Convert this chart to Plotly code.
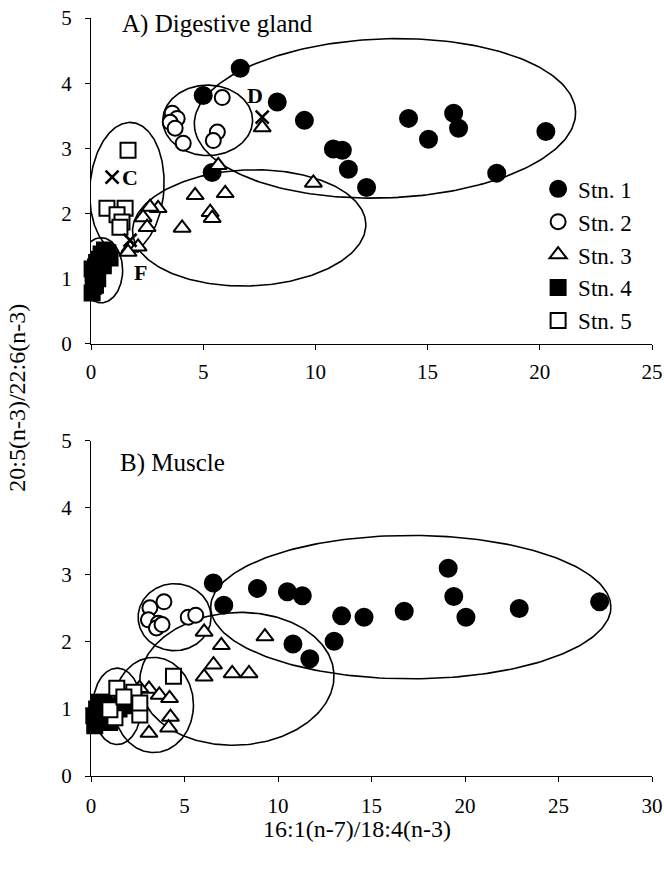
import numpy as np
import plotly.graph_objects as go

# ---------------- data: panel A (digestive gland) ----------------
a_s1_x = [6.65, 5.0, 8.3, 9.51, 10.8, 11.2, 11.47, 12.28, 5.4, 14.15, 15.04, 16.16, 16.38, 18.08, 20.27]
a_s1_y = [4.23, 3.81, 3.71, 3.43, 2.99, 2.97, 2.68, 2.40, 2.63, 3.46, 3.14, 3.54, 3.31, 2.62, 3.26]
a_s2_x = [5.85, 3.62, 3.84, 3.53, 3.75, 4.11, 5.63, 5.45]
a_s2_y = [3.78, 3.54, 3.46, 3.40, 3.31, 3.08, 3.25, 3.12]
a_s3_x = [7.63, 5.67, 9.91, 4.64, 5.98, 5.31, 5.4, 4.06, 2.99, 2.63, 2.32, 2.5, 1.74, 2.1, 1.65]
a_s3_y = [3.32, 2.74, 2.47, 2.28, 2.31, 2.02, 1.93, 1.78, 2.08, 2.10, 1.94, 1.79, 1.47, 1.49, 1.41]
a_s4_x = [0.05, 0.1, 0.15, 0.1, 0.2, 0.25, 0.35, 0.45, 0.6, 0.75, 0.85, 0.55, 0.3, 0.2, 0.05]
a_s4_y = [0.78, 0.88, 0.98, 1.08, 1.18, 1.25, 1.30, 1.38, 1.44, 1.40, 1.32, 1.20, 1.00, 0.90, 1.15]
a_s5_x = [1.65, 0.71, 1.52, 1.16, 1.38, 1.29]
a_s5_y = [2.97, 2.08, 2.08, 1.98, 1.87, 1.79]
# reference samples (x) with letters
a_ref_lbl = ["C", "D", "F"]
a_ref_x = [0.94, 7.63, 1.74]
a_ref_y = [2.56, 3.48, 1.59]
a_lbl_x = [1.74, 7.3, 2.19]
a_lbl_y = [2.56, 3.81, 1.10]

# ---------------- data: panel B (muscle) ----------------
b_s1_x = [6.54, 7.1, 8.9, 10.5, 11.3, 10.8, 11.7, 13.0, 13.4, 14.6, 16.75, 19.1, 19.4, 20.05, 22.9, 27.2]
b_s1_y = [2.88, 2.55, 2.80, 2.75, 2.69, 1.97, 1.75, 2.01, 2.39, 2.37, 2.46, 3.10, 2.68, 2.37, 2.50, 2.60]
b_s2_x = [3.15, 3.9, 3.07, 3.6, 3.5, 3.8, 5.2, 5.6]
b_s2_y = [2.51, 2.60, 2.33, 2.28, 2.21, 2.26, 2.37, 2.40]
b_s3_x = [6.05, 6.97, 6.55, 6.05, 7.55, 8.45, 9.3, 3.1, 3.65, 4.2, 4.25, 4.15, 3.1, 2.6]
b_s3_y = [2.15, 1.95, 1.66, 1.48, 1.53, 1.53, 2.08, 1.30, 1.21, 1.16, 0.88, 0.72, 0.64, 1.31]
b_s4_x = [0.2, 0.35, 0.3, 0.45, 0.7, 0.9, 1.2, 1.5, 1.8, 0.6, 1.0, 0.15]
b_s4_y = [0.75, 0.85, 1.00, 1.10, 1.10, 0.95, 1.05, 1.00, 1.05, 0.80, 0.80, 0.90]
b_s5_x = [1.38, 2.29, 4.41, 1.28, 2.61, 1.01, 2.61, 1.76]
b_s5_y = [1.31, 1.25, 1.49, 0.87, 0.91, 0.99, 1.09, 1.18]

# ellipses: centre x, centre y, semi-axis x, semi-axis y, tilt (deg, on screen)
a_ell_cx = [13.1, 5.2, 7.05, 1.6, 0.45]
a_ell_cy = [3.46, 3.43, 1.78, 2.39, 1.13]
a_ell_ax = [8.5, 2.0, 5.2, 1.65, 0.96]
a_ell_ay = [1.22, 0.54, 0.89, 1.01, 0.50]
a_ell_ang = [2.0, 0.0, 2.0, -4.0, 0.0]

b_ell_cx = [17.1, 4.47, 7.8, 3.35, 1.4]
b_ell_cy = [2.52, 2.37, 1.45, 1.06, 1.04]
b_ell_ax = [10.7, 1.95, 5.2, 2.13, 1.3]
b_ell_ay = [1.07, 0.50, 0.99, 0.71, 0.57]
b_ell_ang = [0.0, 0.0, 3.0, 0.0, 0.0]

stations = ["Stn. 1", "Stn. 2", "Stn. 3", "Stn. 4", "Stn. 5"]
symbols = ["circle", "circle", "triangle-up", "square", "square"]
fills = ["black", "white", "white", "black", "white"]
sizes = [17, 15, 15, 15, 15]

FONT = "Liberation Serif"
fig = go.Figure()

W, H = 664, 871
ML, MR, MT, MB = 91, 12, 18, 95
plot_w = W - ML - MR
plot_h = H - MT - MB
A_DOM = [0.570, 1.0]
B_DOM = [0.0, 0.442]


def add_points(xs_list, ys_list, xaxis, yaxis, show):
    for i, (xs, ys) in enumerate(zip(xs_list, ys_list)):
        fig.add_trace(go.Scatter(
            x=xs, y=ys, mode="markers", name=stations[i],
            xaxis=xaxis, yaxis=yaxis, showlegend=show, legendrank=i,
            cliponaxis=False,
            marker=dict(symbol=symbols[i], size=sizes[i], color=fills[i],
                        line=dict(color="black", width=2)),
        ))


def add_ellipses(cx, cy, ax, ay, ang, xaxis, yaxis, xr, yr, ydom):
    sx = plot_w / (xr[1] - xr[0])
    sy = plot_h * (ydom[1] - ydom[0]) / (yr[1] - yr[0])
    t = np.linspace(0, 2 * np.pi, 241)
    for c1, c2, r1, r2, g in zip(cx, cy, ax, ay, ang):
        u = r1 * sx * np.cos(t)
        v = r2 * sy * np.sin(t)
        th = np.deg2rad(g)
        uu = u * np.cos(th) - v * np.sin(th)
        vv = u * np.sin(th) + v * np.cos(th)
        fig.add_trace(go.Scatter(
            x=c1 + uu / sx, y=c2 + vv / sy, mode="lines",
            line=dict(color="black", width=1.6), xaxis=xaxis, yaxis=yaxis,
            showlegend=False, hoverinfo="skip", cliponaxis=False,
        ))


XR_A, YR_A = [0, 25], [0, 5]
XR_B, YR_B = [0, 30], [0, 5]

add_ellipses(a_ell_cx, a_ell_cy, a_ell_ax, a_ell_ay, a_ell_ang, "x", "y", XR_A, YR_A, A_DOM)
add_ellipses(b_ell_cx, b_ell_cy, b_ell_ax, b_ell_ay, b_ell_ang, "x2", "y2", XR_B, YR_B, B_DOM)

add_points([a_s1_x, a_s2_x, a_s3_x, a_s4_x, a_s5_x],
           [a_s1_y, a_s2_y, a_s3_y, a_s4_y, a_s5_y], "x", "y", True)
add_points([b_s1_x, b_s2_x, b_s3_x, b_s4_x, b_s5_x],
           [b_s1_y, b_s2_y, b_s3_y, b_s4_y, b_s5_y], "x2", "y2", False)

fig.add_trace(go.Scatter(
    x=a_ref_x, y=a_ref_y, mode="markers", xaxis="x", yaxis="y",
    showlegend=False, cliponaxis=False,
    marker=dict(symbol="x-thin", size=13, line=dict(color="black", width=2.6)),
))

annotations = []
for lbl, lx, ly in zip(a_ref_lbl, a_lbl_x, a_lbl_y):
    annotations.append(dict(x=lx, y=ly, xref="x", yref="y", text="<b>%s</b>" % lbl,
                            showarrow=False, font=dict(family=FONT, size=22, color="black")))

annotations += [
    dict(text="A) Digestive gland", x=0.0517, y=0.992, xref="paper", yref="paper",
         xanchor="left", yanchor="middle", showarrow=False,
         font=dict(family=FONT, size=25, color="black")),
    dict(text="B) Muscle", x=0.0482, y=0.413, xref="paper", yref="paper",
         xanchor="left", yanchor="middle", showarrow=False,
         font=dict(family=FONT, size=25, color="black")),
    dict(text="20:5(n-3)/22:6(n-3)", x=-0.132, y=0.499, xref="paper", yref="paper",
         xanchor="center", yanchor="middle", textangle=-90, showarrow=False,
         font=dict(family=FONT, size=24, color="black")),
    dict(text="16:1(n-7)/18:4(n-3)", x=0.474, y=-0.070, xref="paper", yref="paper",
         xanchor="center", yanchor="middle", showarrow=False,
         font=dict(family=FONT, size=24, color="black")),
]

axis_common = dict(showgrid=False, zeroline=False, showline=True, linecolor="black",
                   linewidth=1.3, ticks="outside", ticklen=5, tickcolor="black",
                   tickwidth=1.3, tickfont=dict(family=FONT, size=21, color="black"),
                   fixedrange=True, automargin=False)

fig.update_layout(
    width=W, height=H,
    margin=dict(l=ML, r=MR, t=MT, b=MB, autoexpand=False),
    paper_bgcolor="white", plot_bgcolor="white",
    showlegend=True,
    legend=dict(x=0.797, y=0.803, xanchor="left", yanchor="top",
                bgcolor="rgba(0,0,0,0)", font=dict(family=FONT, size=23, color="black"),
                tracegroupgap=0),
    xaxis=dict(domain=[0, 1], range=XR_A, anchor="y", tickvals=[0, 5, 10, 15, 20, 25],
               ticklabelstandoff=4, **axis_common),
    yaxis=dict(domain=A_DOM, range=YR_A, anchor="x", tickvals=[0, 1, 2, 3, 4, 5],
               ticklabelstandoff=9, **axis_common),
    xaxis2=dict(domain=[0, 1], range=XR_B, anchor="y2", tickvals=[0, 5, 10, 15, 20, 25, 30],
                ticklabelstandoff=6, **axis_common),
    yaxis2=dict(domain=B_DOM, range=YR_B, anchor="x2", tickvals=[0, 1, 2, 3, 4, 5],
                ticklabelstandoff=9, **axis_common),
    annotations=annotations,
)

fig.write_html("out.html", config={"displayModeBar": False},
               post_script="document.body.style.margin='0';document.body.style.overflow='hidden';")
